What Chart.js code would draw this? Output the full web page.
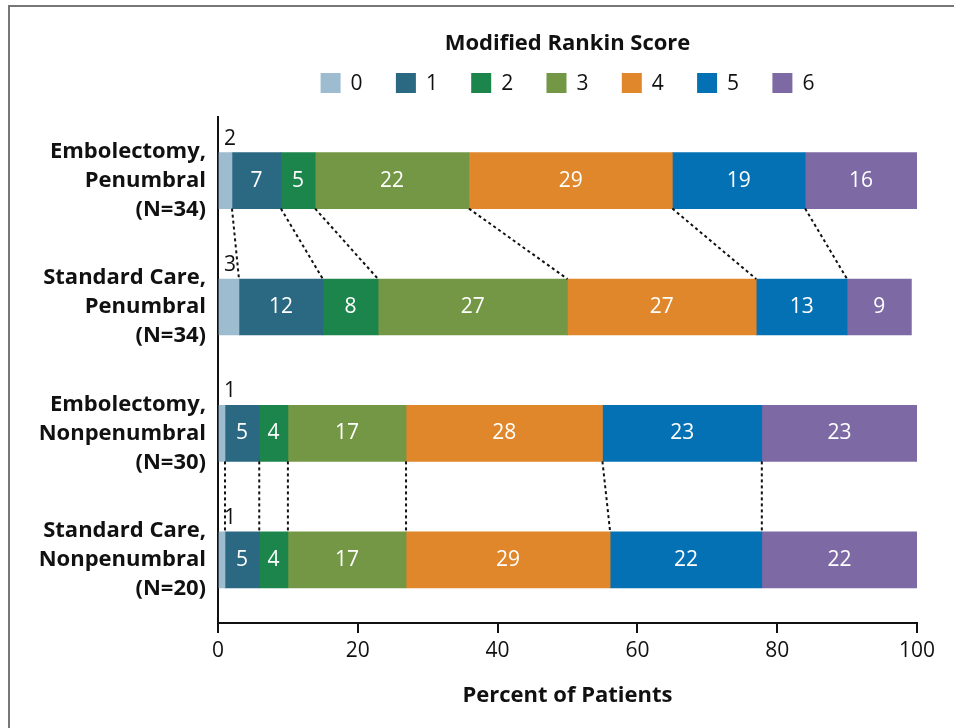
<!DOCTYPE html>
<html>
<head>
<meta charset="utf-8">
<script src="https://cdn.jsdelivr.net/npm/chart.js@4/dist/chart.umd.min.js"></script>
<style>
  html, body { margin: 0; padding: 0; background: #fff; overflow: hidden; }
  #frame { position: absolute; left: 8px; top: 5px; width: 1000px; height: 800px;
           border-left: 2px solid #777; border-top: 2px solid #777; }
  #chart { position: absolute; left: 0; top: 0; }
</style>
</head>
<body>
<div id="frame"></div>
<canvas id="chart" width="954" height="728"></canvas>
<script>
const groups = [
    ['Embolectomy,', 'Penumbral', '(N=34)'],
    ['Standard Care,', 'Penumbral', '(N=34)'],
    ['Embolectomy,', 'Nonpenumbral', '(N=30)'],
    ['Standard Care,', 'Nonpenumbral', '(N=20)']
];
const scores = ['0', '1', '2', '3', '4', '5', '6'];
const scoreColors = ['#9dbccf', '#2b6882', '#1b854c', '#739745', '#e0872b', '#0571b5', '#7d6aa5'];

// bar widths as measured (percent), one array per score
const score0 = [2, 3, 1, 1];
const score1 = [7, 12, 4.9, 4.9];
const score2 = [4.9, 7.9, 4.1, 4.1];
const score3 = [22, 27.1, 16.9, 16.9];
const score4 = [29.1, 27, 28.1, 29.2];
const score5 = [19, 13, 22.8, 21.7];
const score6 = [16, 9.2, 22.2, 22.2];
const scoreValues = [score0, score1, score2, score3, score4, score5, score6];

// numbers printed on the segments
const printed0 = [2, 3, 1, 1];
const printed1 = [7, 12, 5, 5];
const printed2 = [5, 8, 4, 4];
const printed3 = [22, 27, 17, 17];
const printed4 = [29, 27, 28, 29];
const printed5 = [19, 13, 23, 22];
const printed6 = [16, 9, 23, 22];
const printedLabels = [printed0, printed1, printed2, printed3, printed4, printed5, printed6];

const xTicks = [0, 20, 40, 60, 80, 100];
const linkedRows = [[0, 1], [2, 3]];

const FONT = '"Open Sans"';

const segmentLabels = {
    id: 'segmentLabels',
    afterDatasetsDraw(chart) {
        const ctx = chart.ctx;
        ctx.save();
        ctx.font = '21px ' + FONT;
        chart.data.datasets.forEach((ds, i) => {
            chart.getDatasetMeta(i).data.forEach((bar, j) => {
                const { x, y, base, height } = bar.getProps(['x', 'y', 'base', 'height'], true);
                const txt = String(printedLabels[i][j]);
                if (i === 0) {
                    ctx.fillStyle = '#111';
                    ctx.textAlign = 'left';
                    ctx.textBaseline = 'alphabetic';
                    ctx.fillText(txt, base + 5, y - height / 2 - 8);
                } else {
                    ctx.fillStyle = '#fff';
                    ctx.textAlign = 'center';
                    ctx.textBaseline = 'middle';
                    ctx.fillText(txt, (x + base) / 2, y);
                }
            });
        });
        ctx.restore();
    }
};

const connectors = {
    id: 'connectors',
    afterDatasetsDraw(chart) {
        const ctx = chart.ctx;
        const n = chart.data.datasets.length;
        ctx.save();
        ctx.strokeStyle = '#111';
        ctx.lineWidth = 2;
        ctx.setLineDash([3, 3]);
        linkedRows.forEach(([a, b]) => {
            for (let i = 0; i < n - 1; i++) {
                const meta = chart.getDatasetMeta(i);
                const top = meta.data[a], bottom = meta.data[b];
                ctx.beginPath();
                ctx.moveTo(top.x, top.y + top.height / 2);
                ctx.lineTo(bottom.x, bottom.y - bottom.height / 2);
                ctx.stroke();
            }
        });
        ctx.restore();
    }
};

const scoreLegend = {
    id: 'scoreLegend',
    afterDraw(chart) {
        const { ctx, chartArea } = chart;
        const sets = chart.data.datasets;
        const box = 20, gap = 10, step = 75.3, cy = 83;
        ctx.save();
        ctx.font = '21px ' + FONT;
        const lastW = ctx.measureText(sets[sets.length - 1].label).width;
        const total = step * (sets.length - 1) + box + gap + lastW;
        let x = (chartArea.left + chartArea.right) / 2 - total / 2;
        ctx.textAlign = 'left';
        ctx.textBaseline = 'middle';
        sets.forEach(ds => {
            ctx.fillStyle = ds.backgroundColor;
            ctx.fillRect(x, cy - box / 2, box, box);
            ctx.fillStyle = '#111';
            ctx.fillText(ds.label, x + box + gap, cy + 1);
            x += step;
        });
        ctx.restore();
    }
};

new Chart(document.getElementById('chart'), {
    type: 'bar',
    data: {
        labels: groups,
        datasets: scores.map((s, i) => ({
            label: s,
            data: scoreValues[i],
            backgroundColor: scoreColors[i],
            borderWidth: 0,
            barThickness: 56
        }))
    },
    options: {
        indexAxis: 'y',
        responsive: false,
        animation: false,
        layout: { padding: { top: 0, left: 0, right: 37, bottom: 0 } },
        plugins: {
            legend: { display: false },
            tooltip: { enabled: false },
            title: {
                display: true,
                fullSize: false,
                text: 'Modified Rankin Score',
                color: '#111',
                font: { family: FONT, size: 22, weight: 'bold' },
                padding: { top: 31, bottom: 60 }
            }
        },
        scales: {
            x: {
                stacked: true,
                min: 0,
                max: 100,
                afterBuildTicks: scale => { scale.ticks = xTicks.map(v => ({ value: v })); },
                afterFit: scale => { scale.height = 105; },
                grid: { display: true, drawOnChartArea: false, drawTicks: true, tickLength: 10, color: '#111', lineWidth: 2 },
                border: { display: true, color: '#111', width: 2 },
                ticks: { color: '#111', padding: 5, font: { family: FONT, size: 21 }, maxRotation: 0 },
                title: {
                    display: true,
                    text: 'Percent of Patients',
                    color: '#111',
                    font: { family: FONT, size: 22, weight: 'bold' },
                    padding: { top: 0, bottom: 19 }
                }
            },
            y: {
                stacked: true,
                afterFit: scale => { scale.width = 218; },
                grid: { display: false, drawTicks: false },
                border: { display: true, color: '#111', width: 2 },
                ticks: { color: '#111', padding: 12, font: { family: FONT, size: 22, weight: 'bold', lineHeight: 1.32 } }
            }
        }
    },
    plugins: [segmentLabels, connectors, scoreLegend]
});
</script>
</body>
</html>
